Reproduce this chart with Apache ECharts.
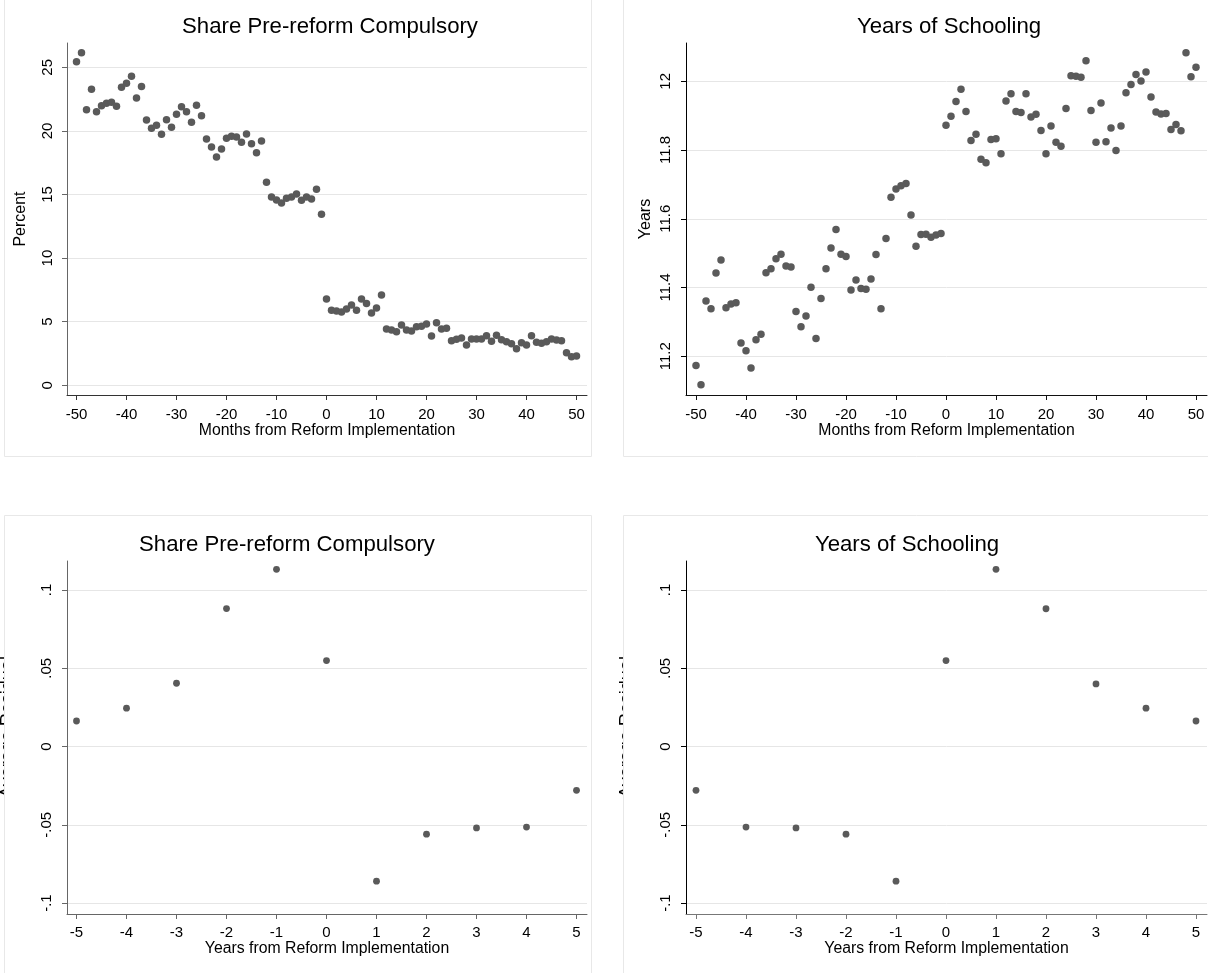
<!DOCTYPE html>
<html>
<head>
<meta charset="utf-8">
<script src="https://cdn.jsdelivr.net/npm/echarts@6/dist/echarts.min.js"></script>
<style>
html,body{margin:0;padding:0;background:#fff;}
#c{width:1208px;height:973px;}
</style>
</head>
<body>
<div id="c"></div>
<script>
// ---------------- DATA ----------------
const months = [-50,-49,-48,-47,-46,-45,-44,-43,-42,-41,-40,-39,-38,-37,-36,-35,-34,-33,-32,-31,
  -30,-29,-28,-27,-26,-25,-24,-23,-22,-21,-20,-19,-18,-17,-16,-15,-14,-13,-12,-11,
  -10,-9,-8,-7,-6,-5,-4,-3,-2,-1,0,1,2,3,4,5,6,7,8,9,10,11,12,13,14,15,16,17,18,19,
  20,21,22,23,24,25,26,27,28,29,30,31,32,33,34,35,36,37,38,39,40,41,42,43,44,45,46,47,48,49,50];

const shareMonthly = [25.44,26.15,21.67,23.27,21.51,21.98,22.17,22.25,21.93,23.43,
  23.74,24.29,22.59,23.5,20.86,20.2,20.44,19.73,20.88,20.28,
  21.3,21.9,21.51,20.67,22.01,21.2,19.36,18.73,17.95,18.58,
  19.42,19.58,19.52,19.1,19.76,18.99,18.29,19.21,15.96,14.8,
  14.57,14.33,14.7,14.8,15.04,14.54,14.8,14.65,15.41,13.44,
  6.78,5.89,5.84,5.76,6.0,6.31,5.89,6.78,6.44,5.68,
  6.07,7.1,4.43,4.35,4.21,4.74,4.35,4.27,4.61,4.64,
  4.82,3.88,4.92,4.43,4.48,3.51,3.62,3.72,3.17,3.64,
  3.64,3.64,3.9,3.46,3.93,3.59,3.43,3.27,2.88,3.35,
  3.17,3.9,3.38,3.3,3.43,3.64,3.56,3.51,2.56,2.25,
  2.30];

const schoolMonthly = [11.173,11.117,11.361,11.338,11.442,11.480,11.341,11.352,11.356,11.239,
  11.216,11.166,11.248,11.264,11.443,11.455,11.484,11.497,11.463,11.460,
  11.330,11.286,11.317,11.401,11.252,11.368,11.455,11.515,11.569,11.497,
  11.490,11.393,11.422,11.397,11.395,11.425,11.496,11.338,11.543,11.663,
  11.687,11.696,11.703,11.611,11.520,11.554,11.555,11.546,11.553,11.557,
  11.872,11.898,11.941,11.977,11.912,11.828,11.846,11.773,11.763,11.831,
  11.833,11.789,11.943,11.964,11.912,11.909,11.964,11.896,11.904,11.857,
  11.789,11.870,11.823,11.811,11.921,12.016,12.015,12.012,12.060,11.915,
  11.823,11.937,11.824,11.864,11.799,11.870,11.967,11.991,12.020,12.001,
  12.027,11.954,11.911,11.905,11.906,11.860,11.874,11.856,12.083,12.013,
  12.041];

const years = [-5,-4,-3,-2,-1,0,1,2,3,4,5];
const shareResid = [0.0163,0.0245,0.0404,0.0881,0.1132,0.0549,-0.086,-0.056,-0.052,-0.0515,-0.028];
const schoolResid = [-0.028,-0.0515,-0.052,-0.056,-0.086,0.0549,0.1132,0.088,0.040,0.0245,0.0163];

const monthTicks = [-50,-40,-30,-20,-10,0,10,20,30,40,50];
const yearTicks = [-5,-4,-3,-2,-1,0,1,2,3,4,5];
const pctTicks = [0,5,10,15,20,25];
const yrsTicks = [11.2,11.4,11.6,11.8,12];
const residTicks = [-0.1,-0.05,0,0.05,0.1];
const residTickLabels = ['-.1','-.05','0','.05','.1'];

const titles = ['Share Pre-reform Compulsory','Years of Schooling','Share Pre-reform Compulsory','Years of Schooling'];
const xNames = ['Months from Reform Implementation','Months from Reform Implementation',
                'Years from Reform Implementation','Years from Reform Implementation'];
const yNames = ['Percent','Years'];
const residName = 'Average Residual';

// ---------------- STYLE / LAYOUT ----------------
const FONT = '"Liberation Sans", Arial, Helvetica, sans-serif';
const DOT = '#5a5a5a';
const GRIDC = '#e6e6e6';
const BORDER = '#e8e8e8';

const grids = [
  {left: 67, top: 43, width: 520, height: 352},
  {left: 686, top: 43, width: 521, height: 352},
  {left: 67, top: 561, width: 520, height: 353},
  {left: 686, top: 561, width: 521, height: 353}
];

function xAxis(gi, min, max, ticks, color, margin, name) {
  return {
    type: 'value', gridIndex: gi, min: min, max: max,
    name: name, nameLocation: 'middle', nameGap: 27,
    nameTextStyle: {fontSize: 15.8, color: '#000', fontFamily: FONT},
    axisLine: {show: true, onZero: false, lineStyle: {color: color, width: 1}},
    axisTick: {show: true, inside: false, length: 5, customValues: ticks, lineStyle: {color: color, width: 1}},
    axisLabel: {show: true, customValues: ticks, margin: margin, fontSize: 15, color: '#000', fontFamily: FONT},
    splitLine: {show: false}
  };
}
function yAxis(gi, min, max, ticks, color, margin, name, nameGap, fmt) {
  const a = {
    type: 'value', gridIndex: gi, min: min, max: max,
    name: name, nameLocation: 'middle', nameGap: nameGap, nameRotate: 90,
    nameTextStyle: {fontSize: 16, color: '#000', fontFamily: FONT},
    axisLine: {show: true, onZero: false, lineStyle: {color: color, width: 1}},
    axisTick: {show: true, inside: false, length: 5, customValues: ticks, lineStyle: {color: color, width: 1}},
    axisLabel: {show: true, customValues: ticks, rotate: 90, margin: margin, fontSize: 15, color: '#000', fontFamily: FONT},
    splitLine: {show: true, lineStyle: {color: GRIDC, width: 1}}
  };
  if (fmt) a.axisLabel.formatter = fmt;
  return a;
}
const residFmt = function (v) {
  for (let i = 0; i < residTicks.length; i++) {
    if (Math.abs(residTicks[i] - v) < 1e-9) return residTickLabels[i];
  }
  return '';
};

function scatter(xi, data, size) {
  return {
    type: 'scatter', xAxisIndex: xi, yAxisIndex: xi, data: data,
    symbol: 'circle', symbolSize: size, silent: true, z: 3,
    itemStyle: {color: DOT, opacity: 1}
  };
}

const titleCenters = [[330, 16], [949, 16], [287, 534], [907, 534]];

const option = {
  backgroundColor: '#fff',
  animation: false,
  textStyle: {fontFamily: FONT},
  title: titles.map(function (t, i) {
    return {
      text: t, left: titleCenters[i][0], top: titleCenters[i][1], textAlign: 'center', padding: 0,
      textStyle: {fontSize: 22.2, fontWeight: 'normal', color: '#000', fontFamily: FONT}
    };
  }),
  grid: grids,
  xAxis: [
    xAxis(0, -51.9, 52.1, monthTicks, '#333', 12, xNames[0]),
    xAxis(1, -52, 52.2, monthTicks, '#111', 12, xNames[1]),
    xAxis(2, -5.19, 5.21, yearTicks, '#666', 11, xNames[2]),
    xAxis(3, -5.2, 5.22, yearTicks, '#777', 11, xNames[3])
  ],
  yAxis: [
    yAxis(0, -0.763, 26.91, pctTicks, '#666', 12, yNames[0], 38),
    yAxis(1, 11.0874, 12.1114, yrsTicks, '#000', 13, yNames[1], 32),
    yAxis(2, -0.107, 0.1185, residTicks, '#666', 13, '', 40, residFmt),
    yAxis(3, -0.107, 0.1185, residTicks, '#000', 13, '', 40, residFmt)
  ],
  series: [
    scatter(0, months.map(function (m, i) { return [m, shareMonthly[i]]; }), 7.5),
    scatter(1, months.map(function (m, i) { return [m, schoolMonthly[i]]; }), 7.5),
    scatter(2, years.map(function (y, i) { return [y, shareResid[i]]; }), 6.8),
    scatter(3, years.map(function (y, i) { return [y, schoolResid[i]]; }), 6.8)
  ],
  graphic: [
    // y titles of the residual panels (partly hidden by the panel edge, as in the original)
    {type: 'text', x: 17, y: 727, rotation: Math.PI / 2, z: 50,
      style: {text: residName, font: '18px ' + FONT, fill: '#000', align: 'center', verticalAlign: 'bottom'}},
    {type: 'text', x: 636, y: 727, rotation: Math.PI / 2, z: 50,
      style: {text: residName, font: '18px ' + FONT, fill: '#000', align: 'center', verticalAlign: 'bottom'}},
    // covers that clip the residual titles at the panel edges
    {type: 'rect', z: 60, shape: {x: 5, y: 560, width: 25, height: 360}, style: {fill: '#fff', stroke: null}},
    {type: 'rect', z: 60, shape: {x: 624, y: 560, width: 25, height: 360}, style: {fill: '#fff', stroke: null}},
    // panel borders
    {type: 'rect', z: 70, shape: {x: 4.5, y: -5, width: 587, height: 461.5}, style: {fill: 'none', stroke: BORDER, lineWidth: 1}},
    {type: 'rect', z: 70, shape: {x: 623.5, y: -5, width: 600, height: 461.5}, style: {fill: 'none', stroke: BORDER, lineWidth: 1}},
    {type: 'rect', z: 70, shape: {x: 4.5, y: 515.5, width: 587, height: 500}, style: {fill: 'none', stroke: BORDER, lineWidth: 1}},
    {type: 'rect', z: 70, shape: {x: 623.5, y: 515.5, width: 600, height: 500}, style: {fill: 'none', stroke: BORDER, lineWidth: 1}}
  ]
};

const chart = echarts.init(document.getElementById('c'), null, {renderer: 'canvas', width: 1208, height: 973});
chart.setOption(option);
</script>
</body>
</html>
